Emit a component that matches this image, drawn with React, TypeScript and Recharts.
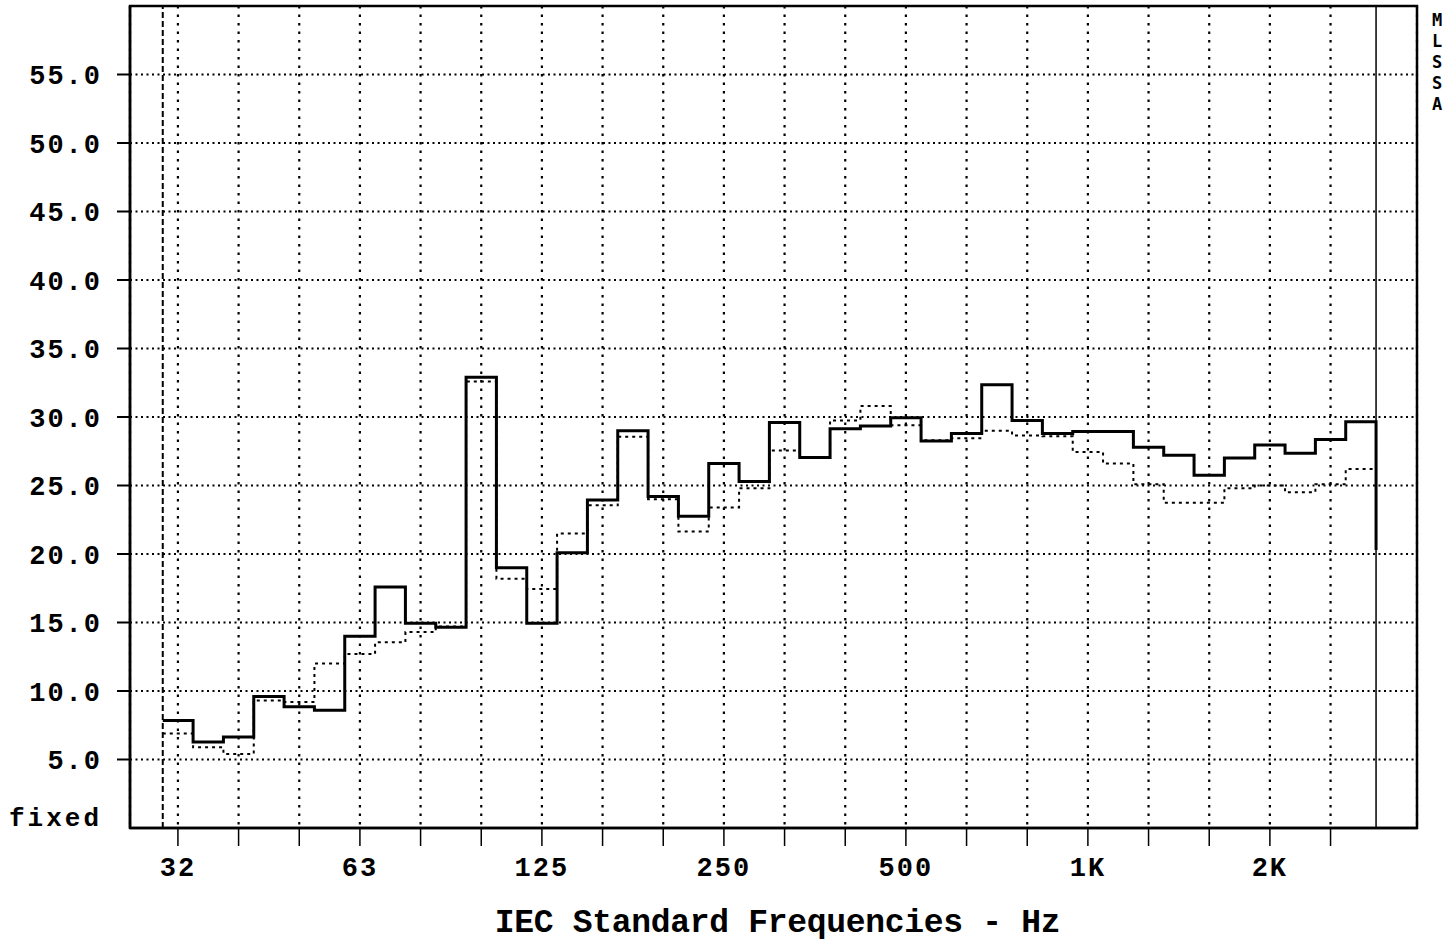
import React from "react"
import {
  LineChart,
  Line,
  XAxis,
  YAxis,
  CartesianGrid,
  ReferenceLine,
  ReferenceArea,
  Label,
} from "recharts"

// 1/6-octave bands, index 0 = 31.5 Hz
const bandHz = [
  31.5, 35.5, 40, 45, 50, 56, 63, 71, 80, 90, 100, 112, 125, 140, 160, 180, 200, 224, 250, 280,
  315, 355, 400, 450, 500, 560, 630, 710, 800, 900, 1000, 1120, 1250, 1400, 1600, 1800, 2000, 2240, 2500, 2800,
]

// solid trace (dB)
const solid = [
  7.85, 6.28, 6.65, 9.6, 8.85, 8.6, 14.0, 17.6, 14.95, 14.65, 32.9, 19.0, 14.95, 20.1, 23.95, 29.0, 24.2, 22.75, 26.6, 25.3,
  29.6, 27.05, 29.15, 29.35, 29.95, 28.25, 28.8, 32.35, 29.75, 28.8, 28.95, 28.95, 27.8, 27.2, 25.75, 27.0, 27.95, 27.35, 28.35, 29.65,
]
const solidEnd = 20.3

// dotted trace (dB)
const dotted = [
  6.9, 5.9, 5.4, 9.3, 9.2, 12.0, 12.7, 13.55, 14.3, 14.7, 32.6, 18.2, 17.45, 21.5, 23.55, 28.55, 24.0, 21.65, 23.4, 24.8,
  27.55, 27.05, 29.75, 30.8, 29.4, 28.3, 28.45, 29.0, 28.65, 28.6, 27.45, 26.6, 25.1, 23.75, 23.75, 24.8, 25.0, 24.5, 25.1, 26.2,
]

const yTicks = [5, 10, 15, 20, 25, 30, 35, 40, 45, 50, 55]
const xTicks = bandHz.map((_, i) => i).filter((i) => i % 2 === 0)
const xLabels: Record<number, string> = { 0: "32", 6: "63", 12: "125", 18: "250", 24: "500", 30: "1K", 36: "2K" }

const xMin = -1.58
const xMax = 40.85

// step points at band lower edges, plus closing point
const data = bandHz.map((_, i) => ({ x: i - 0.5, solid: solid[i], dotted: dotted[i] }))
data.push({ x: bandHz.length - 0.5, solid: solidEnd, dotted: dotted[dotted.length - 1] })

const mono = "'Liberation Mono', 'DejaVu Sans Mono', monospace"

export default function App() {
  return (
    <div style={{ position: "absolute", left: 0, top: 0, width: 1452, height: 941, background: "#fff" }}>
      <LineChart width={1452} height={941} data={data} margin={{ top: 6, right: 35, bottom: 0, left: 10 }}>
        <CartesianGrid horizontal={true} vertical={false} stroke="#000" strokeWidth={1.8} strokeDasharray="2 3.5" />
        <CartesianGrid horizontal={false} vertical={true} stroke="#000" strokeWidth={2.2} strokeDasharray="2.5 6" />
        <XAxis
          type="number"
          dataKey="x"
          domain={[xMin, xMax]}
          ticks={xTicks}
          interval={0}
          allowDataOverflow
          height={113}
          tickSize={18}
          tickMargin={11}
          stroke="#000"
          axisLine={{ stroke: "#000", strokeWidth: 2.5 }}
          tickLine={{ stroke: "#000", strokeWidth: 1.5 }}
          tickFormatter={(v: number) => xLabels[v] ?? ""}
          tick={{ fill: "#000", fontSize: 27, fontFamily: mono, fontWeight: "bold", letterSpacing: 2 }}
        >
          <Label
            value="IEC Standard Frequencies - Hz"
            position="insideBottom"
            offset={9}
            dx={4}
            style={{ fill: "#000", fontSize: 33, fontFamily: mono, fontWeight: "bold", letterSpacing: -0.3 }}
          />
        </XAxis>
        <YAxis
          type="number"
          domain={[0, 60]}
          ticks={yTicks}
          interval={0}
          width={120}
          tickSize={13}
          tickMargin={15}
          axisLine={{ stroke: "#000", strokeWidth: 2.5 }}
          tickLine={{ stroke: "#000", strokeWidth: 2 }}
          tickFormatter={(v: number) => v.toFixed(1)}
          tick={{ fill: "#000", fontSize: 27, fontFamily: mono, fontWeight: "bold", letterSpacing: 2 }}
        />
        <ReferenceArea x1={xMin} x2={xMax} y1={0} y2={60} fill="none" stroke="#000" strokeWidth={2.5} />
        <ReferenceLine x={-0.5} stroke="#000" strokeWidth={2} strokeDasharray="6 3" />
        <ReferenceLine x={bandHz.length - 0.5} stroke="#000" strokeWidth={1.5} />
        <Line
          type="stepAfter"
          dataKey="dotted"
          stroke="#000"
          strokeWidth={2}
          strokeDasharray="3 4"
          dot={false}
          isAnimationActive={false}
        />
        <Line type="stepAfter" dataKey="solid" stroke="#000" strokeWidth={3} dot={false} isAnimationActive={false} />
      </LineChart>
      <div
        style={{
          position: "absolute",
          left: 9,
          top: 806,
          fontFamily: mono,
          fontWeight: "bold",
          fontSize: 26,
          lineHeight: "26px",
          letterSpacing: 3,
          color: "#000",
        }}
      >
        fixed
      </div>
      <div
        style={{
          position: "absolute",
          left: 1426,
          top: 10,
          width: 22,
          textAlign: "center",
          fontFamily: "'DejaVu Sans Mono', monospace",
          fontWeight: "bold",
          fontSize: 17,
          lineHeight: "21px",
          color: "#000",
        }}
      >
        {"MLSSA".split("").map((c, i) => (
          <div key={i} style={{ height: 21 }}>
            {c}
          </div>
        ))}
      </div>
    </div>
  )
}
